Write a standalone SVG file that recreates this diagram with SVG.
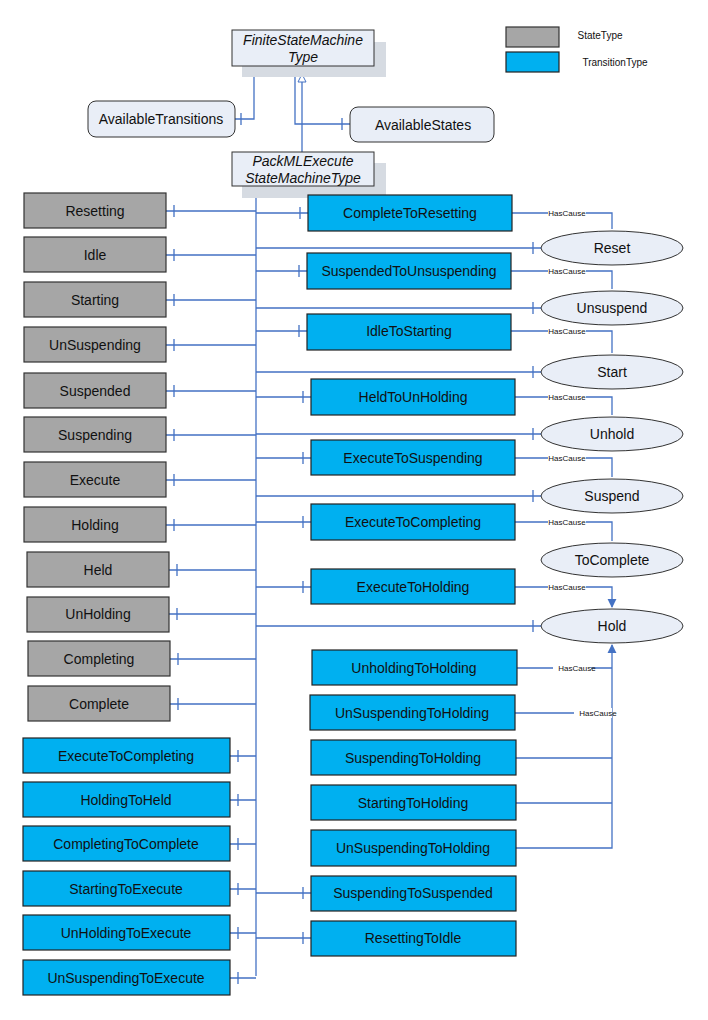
<svg xmlns="http://www.w3.org/2000/svg" width="708" height="1020" viewBox="0 0 708 1020">
<style>
text{font-family:"Liberation Sans",Arial,sans-serif;font-size:14px;text-anchor:middle;dominant-baseline:central;fill:#111}
.st{fill:#a6a6a6;stroke:#333;stroke-width:1.2}
.tr{fill:#00b0f0;stroke:#222;stroke-width:1.2}
.ov{fill:#e9eef7;stroke:#333;stroke-width:1}
.ty{fill:#e9eef7;stroke:#333;stroke-width:1}
.sh{fill:#d6dbe2}
.c{stroke:#4472c4;stroke-width:1.3;fill:none}
.hc{font-size:8px;fill:#111}
.hb{fill:#fff}
.it{font-style:italic}
</style>
<defs>
<marker id="a" viewBox="0 0 10 10" refX="9" refY="5" markerWidth="7" markerHeight="7" orient="auto"><path d="M0,0L10,5L0,10z" fill="#4472c4"/></marker>
</defs>
<g id="legend">
<rect x="506" y="27" width="53" height="20" class="st"/><text x="600" y="35" style="font-size:10px">StateType</text>
<rect x="506" y="52" width="53" height="20" class="tr"/><text x="615" y="62" style="font-size:10px">TransitionType</text>
</g>
<g id="connectors">
<path class="c" d="M254,66V119H235M295,66V124H350"/>
<path class="c" d="M302,152V70"/>
<path d="M302,66l-4,8h8zM302,74l-4,8h8z" fill="#fff" stroke="#4472c4"/>
<path class="c" d="M256,186V976"/>
<g class="c">
<path d="M166,211H256M166,255H256M166,300H256M166,345H256M166,391H256M166,435H256M166,480H256M166,525H256M169,570H256M169,614H256M170,659H256M170,704H256"/>
<path d="M230,756H256M230,800H256M230,844H256M230,889H256M230,933H256M230,978H256"/>
<path d="M256,213H308M256,271H307M256,331H307M256,397H311M256,458H311M256,522H311M256,587H311M256,893H311M256,938H311"/>
<path d="M256,248H541M256,308H541M256,372H541M256,434H541M256,496H541M256,626H541"/>
<path d="M174,205v12M174,249v12M174,294v12M174,339v12M174,385v12M174,429v12M174,474v12M174,519v12M177,564v12M177,608v12M178,653v12M178,698v12M238,750v12M238,794v12M238,838v12M238,883v12M238,927v12M238,972v12M300,207v12M299,265v12M299,325v12M303,391v12M303,452v12M303,516v12M303,581v12M303,887v12M303,932v12M533,242v12M533,302v12M533,366v12M533,428v12M533,490v12M533,620v12M241,113v12M342,118v12"/>
<path d="M512,213H612V229M511,271H612V289M511,331H612V353M515,397H612V415M515,458H612V477M515,522H612V541M515,587H612V607" marker-end="url(#a)"/>
<path d="M517,668H612M515,713H612M516,758H612M516,803H612M516,848H612V645" marker-end="url(#a)"/>
</g>
<g>
<rect x="548" y="208" width="38" height="10" class="hb"/><text x="567" y="213" class="hc">HasCause</text>
<rect x="548" y="266" width="38" height="10" class="hb"/><text x="567" y="271" class="hc">HasCause</text>
<rect x="548" y="326" width="38" height="10" class="hb"/><text x="567" y="331" class="hc">HasCause</text>
<rect x="548" y="392" width="38" height="10" class="hb"/><text x="567" y="397" class="hc">HasCause</text>
<rect x="548" y="453" width="38" height="10" class="hb"/><text x="567" y="458" class="hc">HasCause</text>
<rect x="548" y="517" width="38" height="10" class="hb"/><text x="567" y="522" class="hc">HasCause</text>
<rect x="548" y="582" width="38" height="10" class="hb"/><text x="567" y="587" class="hc">HasCause</text>
<rect x="553" y="663" width="38" height="10" class="hb"/><text x="577" y="668" class="hc">HasCause</text>
<rect x="574" y="708" width="38" height="10" class="hb"/><text x="598" y="713" class="hc">HasCause</text>
</g>
</g>
<g id="fsm"><rect x="242" y="42" width="144" height="35" class="sh"/><rect x="232" y="30" width="142" height="36" class="ty"/><text x="303" y="40" class="it">FiniteStateMachine</text><text x="303" y="57" class="it">Type</text></g>
<g id="packml"><rect x="242" y="163" width="144" height="35" class="sh"/><rect x="232" y="152" width="142" height="34" class="ty"/><text x="303" y="161" class="it">PackMLExecute</text><text x="303" y="178" class="it">StateMachineType</text></g>
<g id="availTrans"><rect x="88" y="101" width="147" height="36" rx="8" class="ty"/><text x="161" y="119">AvailableTransitions</text></g>
<g id="availStates"><rect x="350" y="107" width="144" height="35" rx="8" class="ty"/><text x="423" y="125">AvailableStates</text></g>
<g id="s1"><rect x="24" y="193" width="142" height="35" class="st"/><text x="95" y="211">Resetting</text></g>
<g id="s2"><rect x="24" y="237" width="142" height="35" class="st"/><text x="95" y="255">Idle</text></g>
<g id="s3"><rect x="24" y="282" width="142" height="35" class="st"/><text x="95" y="300">Starting</text></g>
<g id="s4"><rect x="24" y="327" width="142" height="35" class="st"/><text x="95" y="345">UnSuspending</text></g>
<g id="s5"><rect x="24" y="373" width="142" height="35" class="st"/><text x="95" y="391">Suspended</text></g>
<g id="s6"><rect x="24" y="417" width="142" height="35" class="st"/><text x="95" y="435">Suspending</text></g>
<g id="s7"><rect x="24" y="462" width="142" height="35" class="st"/><text x="95" y="480">Execute</text></g>
<g id="s8"><rect x="24" y="507" width="142" height="35" class="st"/><text x="95" y="525">Holding</text></g>
<g id="s9"><rect x="27" y="552" width="142" height="35" class="st"/><text x="98" y="570">Held</text></g>
<g id="s10"><rect x="27" y="597" width="142" height="35" class="st"/><text x="98" y="614">UnHolding</text></g>
<g id="s11"><rect x="28" y="641" width="142" height="35" class="st"/><text x="99" y="659">Completing</text></g>
<g id="s12"><rect x="28" y="686" width="142" height="35" class="st"/><text x="99" y="704">Complete</text></g>
<g id="l1"><rect x="23" y="738" width="207" height="35" class="tr"/><text x="126" y="756">ExecuteToCompleting</text></g>
<g id="l2"><rect x="23" y="782" width="207" height="35" class="tr"/><text x="126" y="800">HoldingToHeld</text></g>
<g id="l3"><rect x="23" y="826" width="207" height="35" class="tr"/><text x="126" y="844">CompletingToComplete</text></g>
<g id="l4"><rect x="23" y="871" width="207" height="35" class="tr"/><text x="126" y="889">StartingToExecute</text></g>
<g id="l5"><rect x="23" y="915" width="207" height="35" class="tr"/><text x="126" y="933">UnHoldingToExecute</text></g>
<g id="l6"><rect x="23" y="960" width="207" height="35" class="tr"/><text x="126" y="978">UnSuspendingToExecute</text></g>
<g id="m1"><rect x="308" y="195" width="204" height="36" class="tr"/><text x="410" y="213">CompleteToResetting</text></g>
<g id="m2"><rect x="307" y="253" width="204" height="36" class="tr"/><text x="409" y="271">SuspendedToUnsuspending</text></g>
<g id="m3"><rect x="307" y="314" width="204" height="36" class="tr"/><text x="409" y="331">IdleToStarting</text></g>
<g id="m4"><rect x="311" y="379" width="204" height="36" class="tr"/><text x="413" y="397">HeldToUnHolding</text></g>
<g id="m5"><rect x="311" y="440" width="204" height="35" class="tr"/><text x="413" y="458">ExecuteToSuspending</text></g>
<g id="m6"><rect x="311" y="504" width="204" height="36" class="tr"/><text x="413" y="522">ExecuteToCompleting</text></g>
<g id="m7"><rect x="311" y="569" width="204" height="35" class="tr"/><text x="413" y="587">ExecuteToHolding</text></g>
<g id="m8"><rect x="312" y="650" width="205" height="35" class="tr"/><text x="414" y="668">UnholdingToHolding</text></g>
<g id="m9"><rect x="310" y="695" width="205" height="35" class="tr"/><text x="412" y="713">UnSuspendingToHolding</text></g>
<g id="m10"><rect x="311" y="740" width="205" height="35" class="tr"/><text x="413" y="758">SuspendingToHolding</text></g>
<g id="m11"><rect x="311" y="785" width="205" height="35" class="tr"/><text x="413" y="803">StartingToHolding</text></g>
<g id="m12"><rect x="311" y="830" width="205" height="36" class="tr"/><text x="413" y="848">UnSuspendingToHolding</text></g>
<g id="m13"><rect x="311" y="876" width="205" height="35" class="tr"/><text x="413" y="893">SuspendingToSuspended</text></g>
<g id="m14"><rect x="311" y="921" width="205" height="35" class="tr"/><text x="413" y="938">ResettingToIdle</text></g>
<g id="e1"><ellipse cx="612" cy="248" rx="71" ry="17" class="ov"/><text x="612" y="248">Reset</text></g>
<g id="e2"><ellipse cx="612" cy="308" rx="71" ry="17" class="ov"/><text x="612" y="308">Unsuspend</text></g>
<g id="e3"><ellipse cx="612" cy="372" rx="71" ry="17" class="ov"/><text x="612" y="372">Start</text></g>
<g id="e4"><ellipse cx="612" cy="434" rx="71" ry="17" class="ov"/><text x="612" y="434">Unhold</text></g>
<g id="e5"><ellipse cx="612" cy="496" rx="71" ry="17" class="ov"/><text x="612" y="496">Suspend</text></g>
<g id="e6"><ellipse cx="612" cy="560" rx="71" ry="17" class="ov"/><text x="612" y="560">ToComplete</text></g>
<g id="e7"><ellipse cx="612" cy="626" rx="71" ry="17" class="ov"/><text x="612" y="626">Hold</text></g>
</svg>
